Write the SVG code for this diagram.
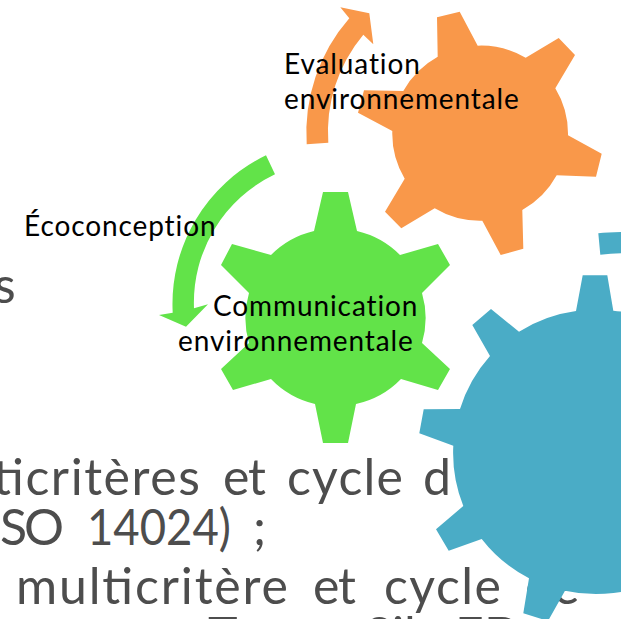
<svg xmlns="http://www.w3.org/2000/svg" width="626" height="619" viewBox="0 0 626 619">
<style>
.lbl{font-family:Lato,"Liberation Sans",sans-serif;font-size:28px;letter-spacing:.9px;fill:#000}
.bg{font-family:Lato,"Liberation Sans",sans-serif;font-size:50px;fill:#4d4d4d}
.o{fill:#f9984a}.g{fill:#62e349}.b{fill:#4aacc6}
</style>
<defs><clipPath id="c"><rect x="0" y="0" width="621" height="619"/></clipPath></defs>
<rect width="626" height="619" fill="#fff"/>
<g id="background-text" clip-path="url(#c)">
<text class="bg" x="-6" y="303">s</text>
<text class="bg" y="495"><tspan x="-7" textLength="207">ticritères</tspan><tspan x="223" textLength="43">et</tspan><tspan x="287" textLength="116">cycle</tspan><tspan x="423" textLength="24">d</tspan></text>
<text class="bg" y="545"><tspan x="-11" textLength="75">ISO</tspan><tspan x="87" textLength="144" lengthAdjust="spacingAndGlyphs">14024)</tspan><tspan x="253">;</tspan></text>
<text class="bg" y="604"><tspan x="16" textLength="272">multicritère</tspan><tspan x="313" textLength="43">et</tspan><tspan x="384" textLength="117">cycle</tspan><tspan x="525">de</tspan></text>
<text class="bg" y="653"><tspan x="208">T</tspan><tspan x="365">Sil</tspan><tspan x="455">ED</tspan></text>
</g>
<g clip-path="url(#c)">
<g id="gear-evaluation"><path class="o" d="M437.7 56.7L437 17.3L459.7 11.7L477.7 45.7A88 88 0 0 1 525.7 57.7L558.7 38L575 55L555.3 88.3A88 88 0 0 1 568 135.3L601.7 153.7L596 176.7L556.7 175.3A88 88 0 0 1 522.3 210L523.3 248.7L500.7 255L482.3 220.7A88 88 0 0 1 434.7 208.3L401.3 228.3L385 211.7L404.7 178.7A88 88 0 0 1 392.3 131L358 112.7L364 90.3L403.3 91A88 88 0 0 1 437.7 56.7Z"/></g>
<g id="gear-communication"><path class="g" d="M314 231L323 192L348 192L357 231A89 89 0 0 1 400 255L438 244L450 265L422 293A89 89 0 0 1 422 343L450 369L438 390L401 379A89 89 0 0 1 356 404L348 443L323 443L315 404A89 89 0 0 1 271 379L233 390L221 369L249 343A89 89 0 0 1 249 293L221 265L232 244L271 255A89 89 0 0 1 314 231Z"/></g>
<g id="gear-ecoconception"><path class="b" d="M576 311L582.7 275.3L607.3 275.3L613.3 310.7A143 143 0 0 1 660 323L660 579A143 143 0 0 1 565 590.7L548 621L523.3 613.3L529 578.3A143 143 0 0 1 481.7 539L448.7 550.7L436 529.3L463.3 506A143 143 0 0 1 453.3 445.7L419.3 433.3L423.7 409.3L460 409A143 143 0 0 1 490 356L472.3 325L491 309L519 331.7A143 143 0 0 1 576 311Z"/></g>
<g id="connectors">
<path class="o" d="M306.7 144.3A174 174 0 0 1 349.3 18.3L340.3 7.3L369.3 13.3L373.3 44.3L363.3 34.7A152 152 0 0 0 328.3 142.7Z"/>
<path class="g" d="M266 155.3A165 165 0 0 0 172.7 312.7L159 315L186 326.7L208 304.3L194 308.3A142 142 0 0 1 275 174.3Z"/>
<path class="b" d="M598.3 233.3Q610 232 630 232L630 253Q615 253 600.3 254.7Z"/>
</g>
</g>
<g id="labels">
<text class="lbl" x="284" y="74">Evaluation</text>
<text class="lbl" x="284" y="109">environnementale</text>
<text class="lbl" x="24" y="236">Écoconception</text>
<text class="lbl" x="213" y="316">Communication</text>
<text class="lbl" x="178" y="351">environnementale</text>
</g>
</svg>
